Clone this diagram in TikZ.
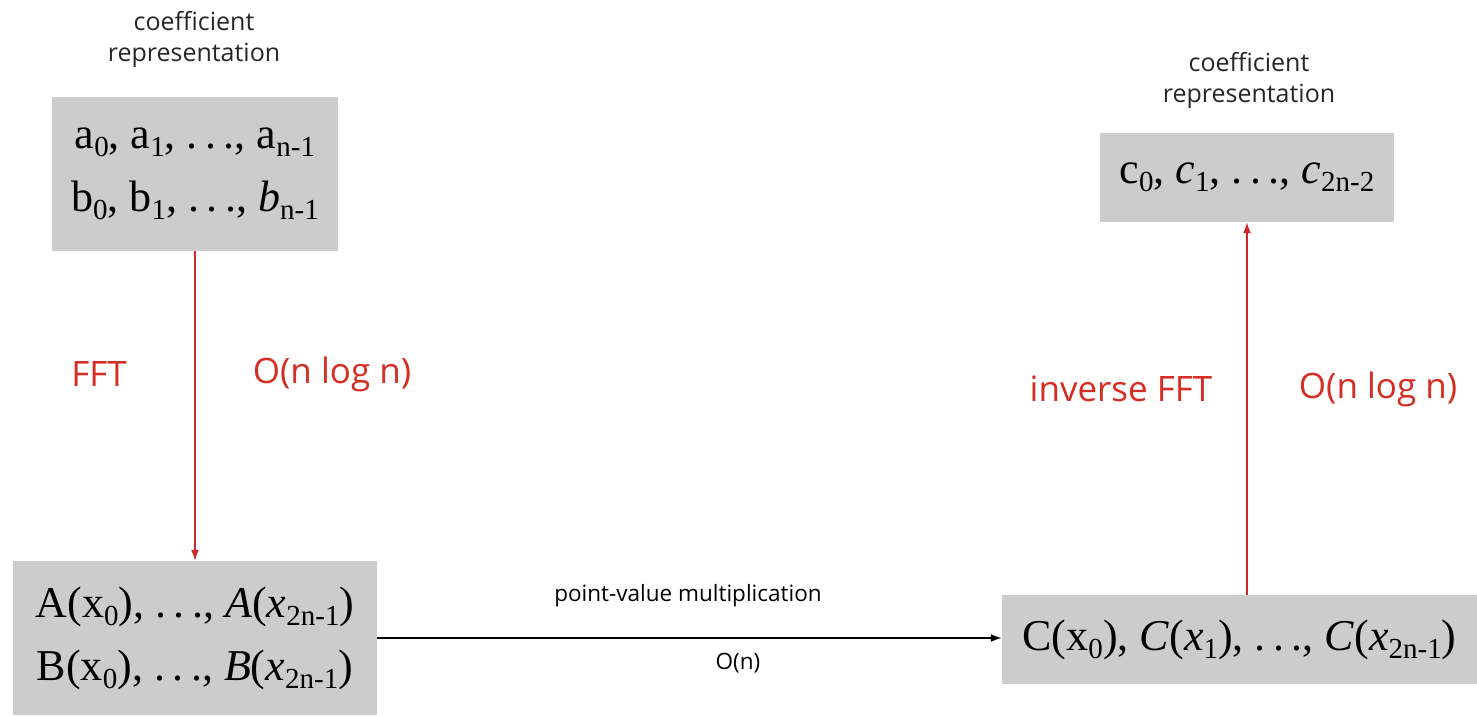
\documentclass[tikz,border=0pt]{standalone}
\usepackage{fontspec}
\setmainfont{Liberation Serif}
\newfontfamily\labfont{Open Sans}
\usetikzlibrary{arrows.meta}
\definecolor{boxgray}{RGB}{204,204,204}
\definecolor{lblred}{RGB}{214,45,35}
\definecolor{arrred}{RGB}{205,40,40}
\newcommand\sbs[1]{\raisebox{-0.42ex}{\scalebox{0.66}{#1}}}
\newcommand\dts{.\hspace{0.17em}.\hspace{0.17em}.}
\begin{document}
\begin{tikzpicture}[x=1pt,y=-1pt,
  valbox/.style={fill=boxgray, draw=none, inner sep=0pt, align=center,
     font=\fontsize{44}{63}\selectfont},
  toplbl/.style={font=\labfont\fontsize{25}{31}\selectfont, text=black!85, align=center},
  redlbl/.style={font=\labfont\fontsize{35}{40}\selectfont, text=lblred},
  blklbl/.style={font=\labfont\fontsize{22.5}{30}\selectfont, text=black},
  redarr/.style={draw=arrred, line width=1.6pt, -{Latex[length=11pt,width=8pt]}},
  blkarr/.style={draw=black, line width=1.6pt, -{Latex[length=11pt,width=8pt]}}]
\useasboundingbox (0,0) rectangle (1477,715);

\node[valbox, minimum width=286pt, minimum height=154pt] (b1) at (195,174)
  {a\sbs{0}, a\sbs{1}, \dts, a\sbs{n-1}\\ b\sbs{0}, b\sbs{1}, \dts, \textit{b}\sbs{n-1}};
\node[valbox, minimum width=364pt, minimum height=154pt] (b2) at (195,638)
  {A(x\sbs{0}), \dts, \textit{A}(\textit{x}\sbs{2n-1})\\ B(x\sbs{0}), \dts, \textit{B}(\textit{x}\sbs{2n-1})};
\node[valbox, minimum width=475pt, minimum height=89pt] (b3) at (1239.5,639.5)
  {C(x\sbs{0}), \textit{C}(\textit{x}\sbs{1}), \dts, \textit{C}(\textit{x}\sbs{2n-1})};
\node[valbox, minimum width=294pt, minimum height=89pt] (b4) at (1247,177.5)
  {c\sbs{0}, \textit{c}\sbs{1}, \dts, \textit{c}\sbs{2n-2}};

\node[toplbl] (t1) at (194,39) {coefficient\\representation};
\node[toplbl] (t2) at (1249,80) {coefficient\\representation};

\node[redlbl] (f1) at (99,374) {FFT};
\node[redlbl] (o1) at (332,374) {O(n log n)};
\node[redlbl] (f2) at (1121,389) {inverse FFT};
\node[redlbl] (o2) at (1378,389) {O(n log n)};

\node[blklbl] (pv) at (688,596) {point-value multiplication};
\node[blklbl] (on) at (738,663) {O(n)};

\draw[redarr] (b1.south) -- (b2.north);
\draw[redarr] (b4.south |- b3.north) -- (b4.south);
\draw[blkarr] (b2.east) -- (b2.east -| b3.west);
\end{tikzpicture}
\end{document}
